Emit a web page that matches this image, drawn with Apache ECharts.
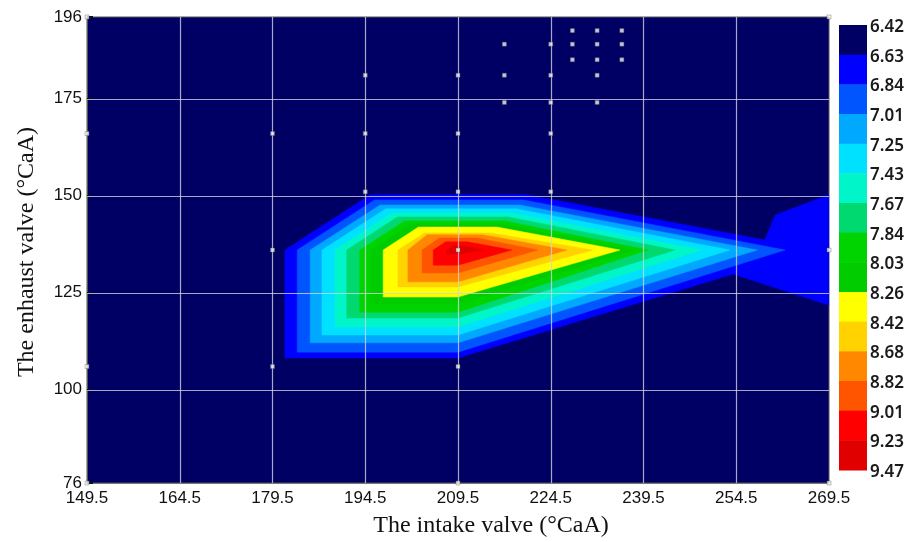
<!DOCTYPE html>
<html>
<head>
<meta charset="utf-8">
<script src="https://cdn.jsdelivr.net/npm/echarts@6/dist/echarts.min.js"></script>
<style>
  html, body { margin: 0; padding: 0; background: #ffffff; }
  #chart { width: 912px; height: 542px; }
</style>
</head>
<body>
<div id="chart"></div>
<script>
// Axis ticks (°CaA)
const xTicks = [149.5, 164.5, 179.5, 194.5, 209.5, 224.5, 239.5, 254.5, 269.5];
const yTicks = [76, 100, 125, 150, 175, 196];

// Contour level boundaries shown on the colour bar
const levelLabels = ['6.42', '6.63', '6.84', '7.01', '7.25', '7.43', '7.67', '7.84',
                     '8.03', '8.26', '8.42', '8.68', '8.82', '9.01', '9.23', '9.47'];

// Fill colour of each band, lowest band first
const bandColors = ['#000064', '#0000ff', '#0055ff', '#00a8ff', '#00e0ff', '#00f5c8', '#00d870',
                    '#00d400', '#00cc00', '#ffff00', '#ffd200', '#ff8800', '#ff5500', '#ff0000', '#e00000'];

// Filled contour rings (intake, exhaust), one per level from 6.63 upwards
const ring663 = [[181.5, 108.2], [181.5, 136], [195.3, 150.2], [220.7, 150.2], [259.1, 138.6], [260.8, 145.0],
                 [269.5, 150.2], [269.5, 121.8], [254.0, 129.8], [209.5, 108.2]];
const ring684 = [[183.5, 109.7], [183.5, 136], [196.0, 148.9], [220.1, 148.9], [262.4, 136], [209.5, 109.7]];
const ring701 = [[185.6, 112.1], [185.6, 136], [196.9, 147.6], [219.5, 147.6], [257.9, 136], [209.5, 112.1]];
const ring725 = [[187.5, 114.1], [187.5, 136], [197.8, 146.6], [218.9, 146.6], [253.5, 136], [209.5, 114.1]];
const ring743 = [[189.6, 116.2], [189.6, 136], [198.8, 145.5], [218.3, 145.5], [249.0, 136], [209.5, 116.2]];
const ring767 = [[191.5, 118.5], [191.5, 136], [199.7, 144.5], [217.6, 144.5], [244.6, 136], [209.5, 118.5]];
const ring784 = [[193.6, 120.0], [193.6, 136], [200.9, 143.5], [217.0, 143.5], [240.2, 136], [209.5, 120.0]];
const ring803 = [[195.4, 122.1], [195.4, 136], [201.9, 142.7], [216.4, 142.7], [238.0, 136], [209.5, 122.1]];
const ring826 = [[197.4, 123.9], [197.4, 136], [203.1, 141.9], [215.8, 141.9], [235.7, 136], [209.5, 123.9]];
const ring842 = [[199.8, 126.5], [199.8, 136], [204.1, 140.4], [214.7, 140.4], [231.3, 136], [209.5, 126.5]];
const ring868 = [[201.4, 127.8], [201.4, 136], [204.5, 139.9], [213.5, 139.9], [227.1, 136], [209.5, 127.8]];
const ring882 = [[203.7, 130.1], [203.7, 136], [206.5, 139.1], [212.6, 139.1], [222.4, 136], [209.5, 130.1]];
const ring901 = [[205.5, 132.1], [205.5, 136], [207.5, 138.1], [211.0, 138.1], [218.2, 136], [209.5, 132.1]];
const ring923 = [[207.7, 135.0], [207.7, 136], [208.8, 137.0], [210.5, 137.0], [213.5, 136], [210.0, 135.0]];
const contourRings = [ring663, ring684, ring701, ring725, ring743, ring767, ring784,
                      ring803, ring826, ring842, ring868, ring882, ring901, ring923];

// Measured operating points (intake, exhaust)
const samplePoints = [
  [149.5, 196], [269.5, 196], [149.5, 76], [209.5, 76], [269.5, 76], [149.5, 166], [149.5, 106],
  [179.5, 166], [179.5, 136], [179.5, 106], [194.5, 181], [194.5, 166], [194.5, 151],
  [209.5, 181], [209.5, 166], [209.5, 151], [209.5, 136], [209.5, 106],
  [217, 189], [217, 181], [217, 174], [224.5, 189], [224.5, 181], [224.5, 174], [224.5, 166], [224.5, 151],
  [228, 192.5], [232, 192.5], [236, 192.5], [228, 189], [232, 189], [236, 189],
  [228, 185], [232, 185], [236, 185], [232, 181], [232, 174], [269.5, 136]
];

const chart = echarts.init(document.getElementById('chart'), null, { renderer: 'canvas' });

const plot = { left: 87, top: 17, right: 83, bottom: 59 };
const tickFont = { color: '#111', fontSize: 17, fontFamily: '"Liberation Sans", Arial, sans-serif' };
const nameFont = '24px "Liberation Serif", "Times New Roman", serif';

// colour bar built from the level arrays
const barTop = 25, barBottom = 470, barLeft = 839, barWidth = 28;
const bandH = (barBottom - barTop) / (levelLabels.length - 1);
const barGraphics = [];
for (let i = 0; i < levelLabels.length - 1; i++) {
  barGraphics.push({
    type: 'rect', silent: true,
    shape: { x: barLeft, y: barTop + i * bandH, width: barWidth, height: bandH + 0.5 },
    style: { fill: bandColors[i] }
  });
}
levelLabels.forEach((lab, i) => {
  barGraphics.push({
    type: 'text', silent: true,
    x: barLeft + barWidth + 3, y: barTop + i * bandH + 2,
    style: { text: lab, fill: '#1a1a1a', font: '600 17px "Noto Sans", "Open Sans", sans-serif',
             verticalAlign: 'middle', align: 'left' }
  });
});

const gridLines = [];
xTicks.slice(1, -1).forEach(v => gridLines.push(['v', v]));
yTicks.slice(1, -1).forEach(v => gridLines.push(['h', v]));

chart.setOption({
  animation: false,
  backgroundColor: '#ffffff',
  grid: Object.assign({ show: true, backgroundColor: bandColors[0], borderColor: '#555', borderWidth: 1 }, plot),
  xAxis: {
    type: 'value', min: 149.5, max: 269.5,
    axisLine: { show: true, onZero: false, lineStyle: { color: '#777', width: 1 } },
    axisTick: { show: false },
    splitLine: { show: false },
    axisLabel: Object.assign({ customValues: xTicks, margin: 7, formatter: v => v.toFixed(1) }, tickFont)
  },
  yAxis: {
    type: 'value', min: 76, max: 196,
    axisLine: { show: true, onZero: false, lineStyle: { color: '#555', width: 1 } },
    axisTick: { show: true, inside: true, customValues: yTicks, length: 6, lineStyle: { color: '#111', width: 2 } },
    splitLine: { show: false },
    axisLabel: Object.assign({ customValues: yTicks, margin: 5, formatter: v => String(v) }, tickFont)
  },
  graphic: barGraphics.concat([
    {
      type: 'text', silent: true, x: 491, y: 526,
      style: { text: 'The intake valve (°CaA)', fill: '#111', font: nameFont, align: 'center', verticalAlign: 'middle' }
    },
    {
      type: 'text', silent: true, x: 27, y: 252, rotation: Math.PI / 2,
      style: { text: 'The enhaust valve (°CaA)', fill: '#111', font: nameFont, align: 'center', verticalAlign: 'middle' }
    }
  ]),
  series: [
    {
      type: 'custom', name: 'contours', z: 2, clip: true, silent: true,
      data: contourRings.map((r, i) => [r[0][0], r[0][1], i]),
      encode: { x: 0, y: 1 },
      renderItem: (params, api) => {
        const ring = contourRings[params.dataIndex];
        return {
          type: 'polygon',
          shape: { points: ring.map(p => api.coord(p)) },
          style: { fill: bandColors[params.dataIndex + 1], stroke: bandColors[params.dataIndex + 1], lineWidth: 0.5 }
        };
      }
    },
    {
      type: 'custom', name: 'grid', z: 4, silent: true,
      data: gridLines.map(g => [g[0] === 'v' ? g[1] : 150, g[0] === 'h' ? g[1] : 150]),
      encode: { x: 0, y: 1 },
      renderItem: (params, api) => {
        const g = gridLines[params.dataIndex];
        const cs = params.coordSys;
        let shape;
        if (g[0] === 'v') {
          const x = Math.round(api.coord([g[1], 150])[0]) + 0.5;
          shape = { x1: x, y1: cs.y, x2: x, y2: cs.y + cs.height };
        } else {
          const y = Math.round(api.coord([150, g[1]])[1]) + 0.5;
          shape = { x1: cs.x, y1: y, x2: cs.x + cs.width, y2: y };
        }
        return { type: 'line', shape, style: { stroke: 'rgba(210,210,222,0.8)', lineWidth: 1.2 } };
      }
    },
    {
      type: 'scatter', name: 'points', z: 5, silent: true,
      data: samplePoints,
      symbol: 'rect', symbolSize: 4,
      itemStyle: { color: '#f4f4f4', borderColor: '#666', borderWidth: 0.5 }
    }
  ]
});
</script>
</body>
</html>
